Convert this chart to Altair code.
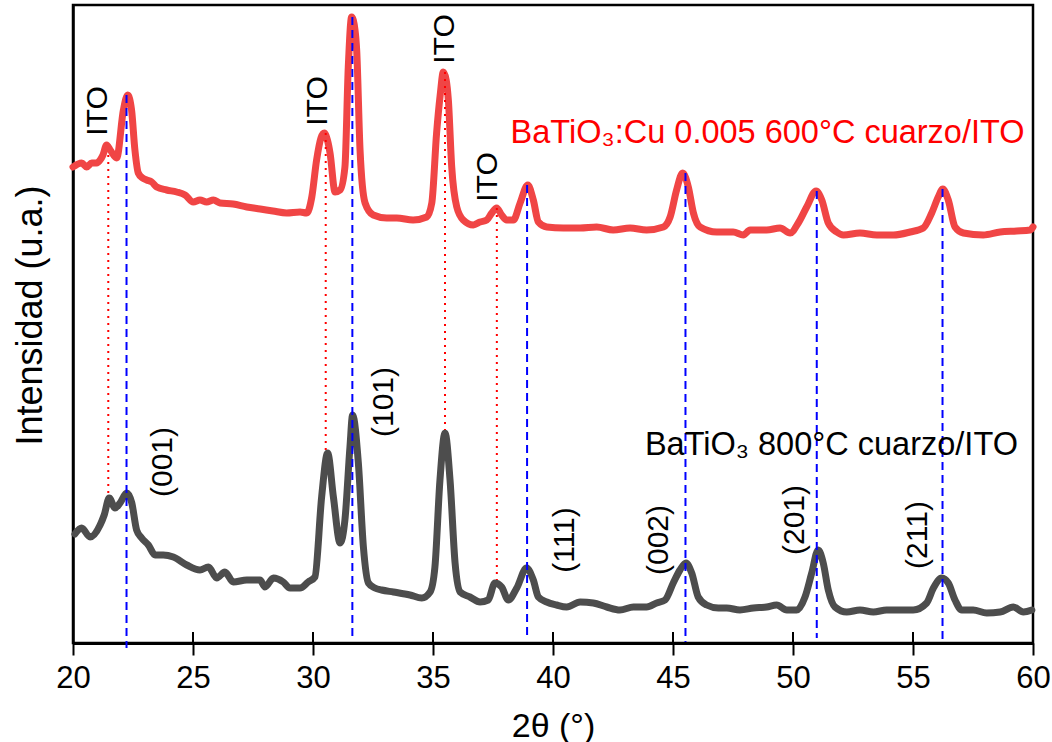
import altair as alt
import pandas as pd

# ---- data ----
red_x = [20.0,20.36,20.57,20.78,20.99,21.13,21.25,21.4,21.55,21.82,22.1,22.28,22.44,22.58,22.72,22.9,23.07,23.28,23.49,23.9,
         24.32,24.67,25.01,25.29,25.57,25.85,26.13,26.67,27.24,27.8,28.33,28.9,29.46,29.74,29.95,30.15,30.33,30.47,30.6,30.71,
         30.92,31.13,31.33,31.47,31.61,31.75,31.82,31.96,32.17,32.51,33.07,33.49,34.17,34.74,34.95,35.15,35.3,35.43,35.55,35.64,
         35.78,35.99,36.26,36.68,36.96,37.24,37.45,37.65,37.86,38.07,38.35,38.63,38.95,39.18,39.39,39.74,40.43,41.13,41.82,42.51,
         43.21,43.9,44.6,44.88,45.15,45.4,45.64,45.85,46.13,46.82,47.51,47.93,48.21,48.9,49.46,49.88,50.22,50.57,50.96,51.2,
         51.47,51.82,52.1,52.79,53.49,54.18,54.88,55.43,55.78,56.05,56.24,56.47,56.75,57.1,57.93,58.63,59.32,59.88,60.0]
red_y = [476,480,476,480,480,483,488,498,493,485,533,548,533,493,470,465,463,461,456,453,
         451,448,441,443,441,443,440,439,436,434,432,430,431,430,446,483,505,510,503,490,
         451,453,476,576,626,613,593,493,440,428,425,425,423,426,440,510,548,571,563,543,
         476,436,423,418,421,423,430,435,428,423,423,440,458,443,421,416,415,415,416,413,
         415,413,416,426,453,470,456,430,416,411,411,408,413,413,415,410,420,436,452,443,
         420,411,408,410,408,408,411,415,430,446,454,443,416,410,408,411,412,413,416]

gray_x = [20.08,20.36,20.71,21.13,21.3,21.51,21.75,21.96,22.24,22.45,22.65,22.86,23.14,23.42,23.76,24.18,24.74,25.29,25.64,25.99,
          26.33,26.68,27.24,27.79,28.0,28.35,28.76,29.04,29.46,29.8,30.08,30.36,30.61,30.85,31.13,31.33,31.54,31.65,31.89,32.1,
          32.31,32.58,32.86,33.35,34.04,34.53,34.88,35.08,35.29,35.5,35.71,35.92,36.13,36.54,36.96,37.3,37.58,37.86,38.14,38.49,
          38.9,39.18,39.39,39.74,40.15,40.57,41.13,41.68,42.24,42.79,43.35,43.9,44.32,44.67,45.01,45.29,45.54,45.78,46.05,46.4,
          46.89,47.24,47.79,48.35,48.9,49.32,49.74,50.15,50.5,50.78,51.05,51.26,51.47,51.75,52.24,52.79,53.35,53.9,54.46,55.01,
          55.57,55.85,56.2,56.47,56.75,57.03,57.51,58.07,58.63,59.18,59.6,59.95]
gray_y = [109,115,106,118,128,145,135,140,150,140,113,105,98,88,88,86,78,73,76,65,
          71,61,63,63,56,65,61,55,55,61,66,146,190,146,100,123,196,228,180,96,
          60,55,53,51,48,45,51,76,163,210,163,80,51,46,41,43,60,56,43,55,
          75,63,46,41,38,36,41,40,36,33,36,36,40,43,60,73,80,70,46,38,
          35,35,33,35,36,38,33,33,46,70,93,80,53,36,31,33,31,33,33,33,
          40,55,65,60,43,33,33,30,31,36,31,33]

# BaTiO3 reflections (blue dashed guides)
bto_x = [22.23, 31.64, 38.92, 45.52, 50.99, 56.23]
bto_top = [548, 626, 458, 470, 452, 454]
bto_bot = [-5, 3, 6, 1, 5, 3]

# ITO reflections (red dotted guides)
ito_x = [21.47, 30.53, 35.5, 37.66]
ito_top = [488, 510, 571, 435]
ito_bot = [146, 191, 213, 63]

# rotated peak labels
lab_text = ["ITO", "ITO", "ITO", "ITO", "(001)", "(101)", "(111)", "(002)", "(201)", "(211)"]
lab_x = [21.05, 30.19, 35.49, 37.29, 23.76, 32.96, 40.5, 44.42, 50.08, 55.19]
lab_y = [532, 542, 604, 466, 181, 241, 103, 103, 123, 108]

# series labels
ser_text = ["BaTiO₃:Cu 0.005 600°C cuarzo/ITO", "BaTiO₃ 800°C cuarzo/ITO"]
ser_x = [48.94, 51.6]
ser_y = [500, 188]
ser_color = ["#ff0000", "#000000"]

tick_vals = [20, 25, 30, 35, 40, 45, 50, 55, 60]

FONT = "Liberation Sans"

curves = pd.concat([
    pd.DataFrame({"x": red_x, "y": red_y, "s": "red"}),
    pd.DataFrame({"x": gray_x, "y": gray_y, "s": "gray"}),
])
bto = pd.DataFrame({"x": bto_x, "top": bto_top, "bot": bto_bot})
ito = pd.DataFrame({"x": ito_x, "top": ito_top, "bot": ito_bot})
labs = pd.DataFrame({"x": lab_x, "y": lab_y, "t": lab_text})
sers = pd.DataFrame({"x": ser_x, "y": ser_y, "t": ser_text, "c": ser_color})
ticks = pd.DataFrame({"x": tick_vals})

xscale = alt.Scale(domain=[20, 60], nice=False, zero=False)
yscale = alt.Scale(domain=[0, 638], nice=False, zero=False)

xaxis = alt.Axis(values=tick_vals, title="2θ (°)", grid=False, tickSize=12, tickWidth=2,
                 tickColor="black", labelFont=FONT, labelFontSize=31, labelColor="black",
                 labelPadding=8, titleFont=FONT, titleFontSize=34, titleFontWeight="normal",
                 titleColor="black", titleBaseline="alphabetic", titleY=93,
                 domainColor="black", domainWidth=3, labelFlush=False)
yaxis = alt.Axis(title="Intensidad (u.a.)", grid=False, ticks=False, labels=False,
                 titleFont=FONT, titleFontSize=36, titleFontWeight="normal", titleColor="black",
                 titleAngle=270, titleBaseline="alphabetic", titleX=-32, titleY=310,
                 titleAlign="center", domainColor="black", domainWidth=2.5)

base_lines = alt.Chart(curves).mark_line(strokeWidth=7, strokeCap="round", strokeJoin="round",
                                         interpolate="monotone").encode(
    x=alt.X("x:Q", scale=xscale, axis=xaxis),
    y=alt.Y("y:Q", scale=yscale, axis=yaxis),
    detail="s:N",
    color=alt.Color("s:N", scale=alt.Scale(domain=["red", "gray"], range=["#f04545", "#4d4d4d"]),
                    legend=None),
)

bto_rules = alt.Chart(bto).mark_rule(color="#0000ff", strokeWidth=2, strokeDash=[8, 5]).encode(
    x=alt.X("x:Q", scale=xscale), y=alt.Y("top:Q", scale=yscale), y2="bot:Q")

ito_rules = alt.Chart(ito).mark_rule(color="#ff0000", strokeWidth=2, strokeDash=[2, 5]).encode(
    x=alt.X("x:Q", scale=xscale), y=alt.Y("top:Q", scale=yscale), y2="bot:Q")

inner_ticks = alt.Chart(ticks).mark_rule(color="black", strokeWidth=2).encode(
    x=alt.X("x:Q", scale=xscale), y=alt.value(627), y2=alt.value(638))

peak_labels = alt.Chart(labs).mark_text(font=FONT, fontSize=30, angle=270, align="center",
                                        baseline="middle", color="black").encode(
    x=alt.X("x:Q", scale=xscale), y=alt.Y("y:Q", scale=yscale), text="t:N")

series_labels = alt.Chart(sers).mark_text(font=FONT, fontSize=32.5, align="center",
                                          baseline="alphabetic").encode(
    x=alt.X("x:Q", scale=xscale), y=alt.Y("y:Q", scale=yscale), text="t:N",
    color=alt.Color("c:N", scale=None))

chart = alt.layer(base_lines, ito_rules, bto_rules, inner_ticks, peak_labels, series_labels).properties(
    width=960, height=638,
    autosize=alt.AutoSizeParams(type="none"),
    padding={"left": 73, "top": 5, "right": 19, "bottom": 99},
    background="white",
).configure_view(stroke="black", strokeWidth=2.5).configure_axis(labelFlush=False)

chart.save("out.html", embed_options={"renderer": "svg", "actions": False})
